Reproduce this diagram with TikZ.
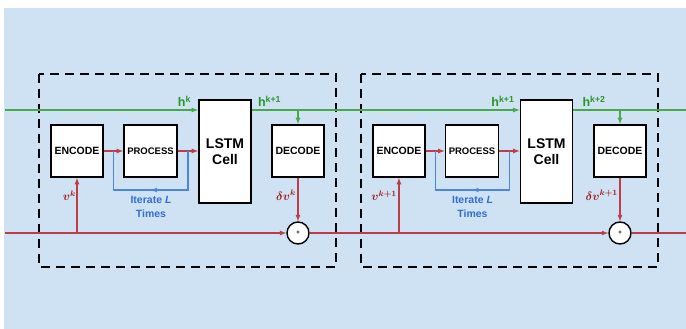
\documentclass[tikz,border=0pt]{standalone}
\usepackage{fontspec}
\setmainfont{Liberation Sans}
\usepackage{amsmath}
\usetikzlibrary{arrows, positioning, calc}

\definecolor{bgblue}{RGB}{207,226,243}
\definecolor{hgreen}{RGB}{70,170,70}
\definecolor{hlabel}{RGB}{40,150,40}
\definecolor{vred}{RGB}{190,60,70}
\definecolor{vlabel}{RGB}{165,20,20}
\definecolor{iterblue}{RGB}{75,135,225}
\definecolor{iterlabel}{RGB}{50,110,210}

\begin{document}
\begin{tikzpicture}[x=1pt, y=1pt, >=latex]
		\tikzstyle{block}=[draw=black, line width=1.8pt, fill=white, minimum width=52pt, minimum height=52pt, inner sep=0pt, text=black, font=\fontsize{10.5}{12}\selectfont\bfseries]
		\tikzstyle{cell}=[block, minimum height=103pt, align=center, font=\fontsize{14}{16}\selectfont\bfseries]
		\tikzstyle{adder}=[draw=black, line width=1.4pt, fill=white, circle, minimum size=22pt, inner sep=0pt, font=\fontsize{6}{6}\selectfont\bfseries]
		\tikzstyle{frame}=[draw=black, line width=2.3pt, dash pattern=on 9pt off 6pt]
		\tikzstyle{hidden}=[hgreen, line width=1.2pt]
		\tikzstyle{state}=[vred, line width=1.2pt]
		\tikzstyle{iterline}=[iterblue, line width=1.1pt]
		\tikzstyle{hlab}=[text=hlabel, inner sep=0pt, font=\fontsize{12.5}{12}\selectfont\bfseries]
		\tikzstyle{vlab}=[text=vlabel, inner sep=0pt, font=\fontsize{12}{12}\selectfont]
		\tikzstyle{itlab}=[text=iterlabel, align=center, inner sep=0pt, font=\fontsize{10.5}{13.5}\selectfont\bfseries]

		\useasboundingbox (0,0) rectangle (686,329);
		\fill [bgblue] (4,0) rectangle (686,321);

		% first step
		\node (enc1)  at (77,178)    [block] {ENCODE};
		\node (proc1) at (150.5,178) [block, minimum width=53pt, font=\fontsize{9.5}{10}\selectfont\bfseries] {PROCESS};
		\node (cell1) at (225,177.5) [cell] {LSTM\\Cell};
		\node (dec1)  at (298,178)   [block] {DECODE};
		\node (sum1)  at (298,96)    [adder] {+};
		\draw [frame] (39,255) rectangle (336,62);

		% second step
		\node (enc2)  at (399,178)   [block] {ENCODE};
		\node (proc2) at (472,178)   [block, minimum width=53pt, font=\fontsize{9.5}{10}\selectfont\bfseries] {PROCESS};
		\node (cell2) at (546.5,177.5) [cell] {LSTM\\Cell};
		\node (dec2)  at (620,178)   [block] {DECODE};
		\node (sum2)  at (620,96)    [adder] {+};
		\draw [frame] (361,255) rectangle (658,62);

		% hidden state line
		\coordinate (hin)  at (5,219);
		\coordinate (hout) at (686,219);
		\draw [hidden, ->] (hin) -- (hin -| cell1.west);
		\draw [hidden, ->] (hin -| cell1.east) -- (hin -| cell2.west);
		\draw [hidden] (hin -| cell2.east) -- (hout);
		\draw [hidden, ->] (hin -| dec1) -- (dec1.north);
		\draw [hidden, ->] (hin -| dec2) -- (dec2.north);

		% state line
		\coordinate (vin)  at (5,96);
		\coordinate (vout) at (686,96);
		\draw [state, ->] (vin) -- (sum1.west);
		\draw [state, ->] (sum1.east) -- (sum2.west);
		\draw [state] (sum2.east) -- (vout);
		\draw [state, ->] (vin -| enc1) -- (enc1.south);
		\draw [state, ->] (vin -| enc2) -- (enc2.south);
		\draw [state, ->] (dec1.south) -- (sum1.north);
		\draw [state, ->] (dec2.south) -- (sum2.north);
		\draw [state, ->] (enc1.east) -- (proc1.west);
		\draw [state, ->] (proc1.east) -- (proc1.east -| cell1.west);
		\draw [state, ->] (enc2.east) -- (proc2.west);
		\draw [state, ->] (proc2.east) -- (proc2.east -| cell2.west);

		% iteration loops
		\coordinate (it1l) at ($(enc1.east)!0.5!(proc1.west)$);
		\coordinate (it1r) at ($(proc1.east)!0.5!(proc1.east -| cell1.west)$);
		\draw [iterline] (it1r) -- ++(0,-39) -- ($(it1l)+(0,-39)$) -- (it1l);
		\draw [iterline, ->] ($(it1r)+(0,-39)$) -- ($(it1l)!0.5!(it1r)+(0,-39)$);
		\coordinate (it2l) at ($(enc2.east)!0.5!(proc2.west)$);
		\coordinate (it2r) at ($(proc2.east)!0.5!(proc2.east -| cell2.west)$);
		\draw [iterline] (it2r) -- ++(0,-39) -- ($(it2l)+(0,-39)$) -- (it2l);
		\draw [iterline, ->] ($(it2r)+(0,-39)$) -- ($(it2l)!0.5!(it2r)+(0,-39)$);

		% labels
		\node (hk1)  [hlab, anchor=south east] at ($(hin -| cell1.west)+(-7,3)$) {h\textsuperscript{k}};
		\node (hk2)  [hlab, anchor=south west] at ($(hin -| cell1.east)+(6,3)$) {h\textsuperscript{k+1}};
		\node (hk3)  [hlab, anchor=south east] at ($(hin -| cell2.west)+(-5,3)$) {h\textsuperscript{k+1}};
		\node (hk4)  [hlab, anchor=south west] at ($(hin -| cell2.east)+(9,3)$) {h\textsuperscript{k+2}};
		\node (vk1)  [vlab, anchor=east] at ($(enc1.south)+(-1,-18)$) {$\boldsymbol{v}^{\boldsymbol{k}}$};
		\node (vk2)  [vlab, anchor=east] at ($(enc2.south)+(-2,-18)$) {$\boldsymbol{v}^{\boldsymbol{k+1}}$};
		\node (dv1)  [vlab, anchor=east] at ($(dec1.south)+(-2,-17)$) {$\boldsymbol{\delta v}^{\boldsymbol{k}}$};
		\node (dv2)  [vlab, anchor=east] at ($(dec2.south)+(-2,-17)$) {$\boldsymbol{\delta v}^{\boldsymbol{k+1}}$};
		\node (it1)  [itlab] at (151,122) {Iterate \textit{L}\\Times};
		\node (it2)  [itlab] at (472.5,122) {Iterate \textit{L}\\Times};
\end{tikzpicture}
\end{document}
